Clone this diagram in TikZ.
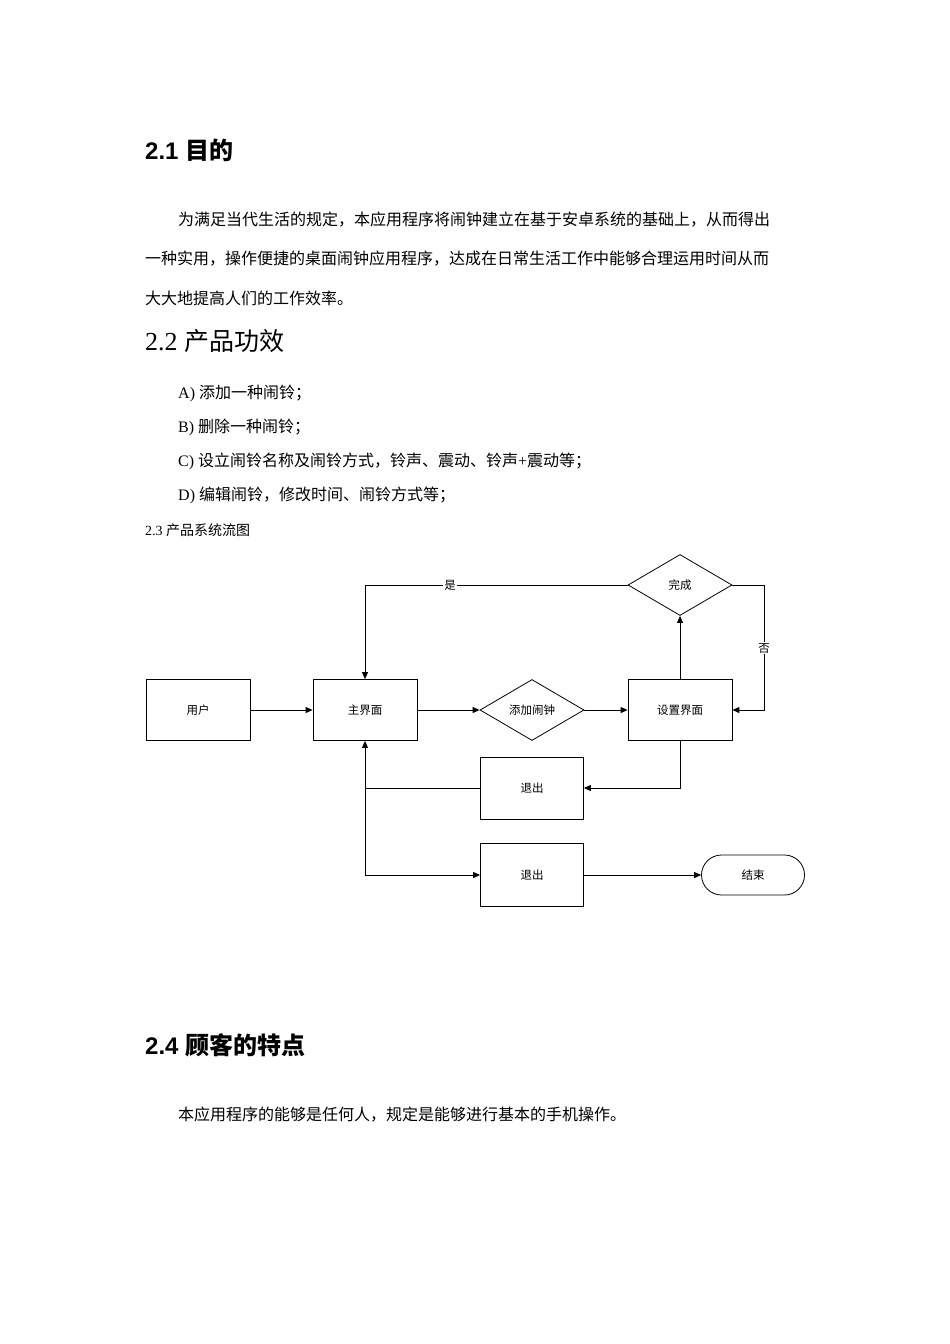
\documentclass[tikz,border=0pt]{standalone}
\usepackage{fontspec}
\setmainfont{Liberation Serif}
\newfontfamily\cjk{Noto Sans CJK SC}
\newfontfamily\hsans{Liberation Sans}
\usetikzlibrary{shapes.geometric,arrows.meta}
\begin{document}
\begin{tikzpicture}[x=1pt,y=-1pt,
  body/.style={anchor=west,inner sep=0pt,font=\cjk\fontsize{16}{16}\selectfont},
  head/.style={anchor=west,inner sep=0pt,font=\fontsize{24}{24}\selectfont},
  box/.style={draw,line width=0.8pt,minimum width=104pt,minimum height=61pt,font=\cjk\fontsize{11.5}{12}\selectfont},
  dia/.style={draw,line width=0.8pt,diamond,aspect=1.7,minimum width=104pt,minimum height=61pt,inner sep=0pt,font=\cjk\fontsize{11.5}{12}\selectfont},
  arr/.style={-{Triangle[length=7pt,width=6pt]},line width=0.9pt},
  ln/.style={line width=0.9pt},
  lab/.style={font=\cjk\fontsize{11.5}{12}\selectfont,fill=white,inner sep=1pt}]
\useasboundingbox (0,0) rectangle (950,1344);
\node[head] (h1) at (145,150) {{\hsans\bfseries 2.1 }{\cjk\bfseries 目的}};
\node[body] (p1) at (178,220) {为满足当代生活的规定，本应用程序将闹钟建立在基于安卓系统的基础上，从而得出};
\node[body] (p2) at (145,259) {一种实用，操作便捷的桌面闹钟应用程序，达成在日常生活工作中能够合理运用时间从而};
\node[body] (p3) at (145,298) {大大地提高人们的工作效率。};
\node[head] (h2) at (145,341) {{\fontsize{26}{26}\selectfont 2.2 }{\cjk\fontsize{25}{25}\selectfont 产品功效}};
\node[body] (l1) at (178,393) {{\rmfamily A) }添加一种闹铃；};
\node[body] (l2) at (178,427) {{\rmfamily B) }删除一种闹铃；};
\node[body] (l3) at (178,461) {{\rmfamily C) }设立闹铃名称及闹铃方式，铃声、震动、铃声{\rmfamily +}震动等；};
\node[body] (l4) at (178,495) {{\rmfamily D) }编辑闹铃，修改时间、闹铃方式等；};
\node[body,font=\cjk\fontsize{14}{14}\selectfont] (l5) at (145,530) {{\rmfamily 2.3 }产品系统流图};
% flowchart
\node[box] (user) at (198,710) {用户};
\node[box] (main) at (365,710) {主界面};
\node[dia] (add) at (532,710) {添加闹钟};
\node[box] (set) at (680,710) {设置界面};
\node[dia] (done) at (680,585) {完成};
\node[box,minimum height=62pt,minimum width=103pt] (ex1) at (532,788) {退出};
\node[box,minimum height=63pt,minimum width=103pt] (ex2) at (532,875) {退出};
\node[box,rounded corners=20pt,minimum height=40pt,minimum width=103pt] (end) at (753,875) {结束};
\coordinate (c1) at (365,585);
\coordinate (c2) at (764,585);
\coordinate (c3) at (764,710);
\coordinate (c4) at (680,788);
\coordinate (c5) at (365,788);
\coordinate (c6) at (365,875);
\draw[arr] (user) -- (main);
\draw[arr] (main) -- (add);
\draw[arr] (add) -- (set);
\draw[arr] (set) -- (done);
\draw[arr] (done.west) -- (c1) -- (main.north);
\node[lab] (yes) at (450,585) {是};
\draw[arr] (done.east) -- (c2) -- (c3) -- (set.east);
\node[lab] (no) at (764,648) {否};
\draw[arr] (set.south) -- (c4) -- (ex1.east);
\draw[arr] (ex1.west) -- (c5) -- (main.south);
\draw[arr] (c5) -- (c6) -- (ex2.west);
\draw[arr] (ex2) -- (end);
\node[head] (h4) at (145,1045) {{\hsans\bfseries 2.4 }{\cjk\bfseries 顾客的特点}};
\node[body] (p4) at (178,1115) {本应用程序的能够是任何人，规定是能够进行基本的手机操作。};
\end{tikzpicture}
\end{document}
